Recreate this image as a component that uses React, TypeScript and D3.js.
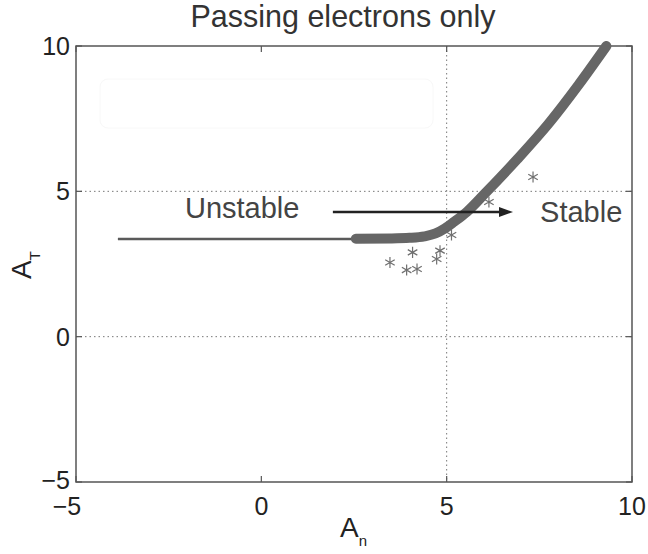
import React from "react";
import * as d3 from "d3";

const W = 648;
const H = 554;

const xTicks = [-5, 0, 5, 10];
const yTicks = [-5, 0, 5, 10];
const xGrid = [5];
const yGrid = [0, 5];

// thin branch (A_n, A_T)
const thinAn = [-3.87, 2.55];
const thinAt = [3.36, 3.36];

// thick branch
const thickAn = [2.55, 3.5, 4.0, 4.4, 4.7, 4.95, 5.2, 5.55, 6.05, 6.9, 7.75, 8.55, 9.31];
const thickAt = [3.37, 3.38, 3.4, 3.45, 3.55, 3.72, 3.95, 4.3, 4.95, 6.1, 7.33, 8.65, 10];

// scattered star markers
const starAn = [7.33, 6.14, 5.13, 4.82, 4.73, 4.08, 3.47, 3.92, 4.2];
const starAt = [5.49, 4.63, 3.5, 2.96, 2.67, 2.9, 2.55, 2.29, 2.33];

// arrow
const arrowAn = [1.93, 6.79];
const arrowAt = 4.29;

const labels = [
  { text: "Unstable", an: -2.06, at: 4.08 },
  { text: "Stable", an: 7.52, at: 3.95 },
];

export default function App() {
  const left = 76, right = 632, top = 46, bottom = 482;
  const x = d3.scaleLinear().domain([-5, 10]).range([left, right]);
  const y = d3.scaleLinear().domain([-5, 10]).range([bottom, top]);
  const font = "'Liberation Sans', Arial, Helvetica, sans-serif";

  const thinPts: [number, number][] = thinAn.map((a, i) => [x(a), y(thinAt[i])]);
  const thickPts: [number, number][] = thickAn.map((a, i) => [x(a), y(thickAt[i])]);
  const lineGen = d3.line().curve(d3.curveMonotoneX);
  const straight = d3.line();
  const star = d3.symbol().type(d3.symbolAsterisk).size(85)() as string;

  const ax0 = x(arrowAn[0]);
  const ax1 = x(arrowAn[1]);
  const ay = y(arrowAt);

  return (
    <svg width={W} height={H} style={{ position: "absolute", left: 0, top: 0, background: "#fff" }}>
      {/* faint box */}
      <rect x={100} y={79} width={333} height={49} rx={8} fill="#fff" stroke="#f8f8f8" strokeWidth={1} />
      {/* grid */}
      {xGrid.map((g) => (
        <line key={"xg" + g} x1={x(g)} x2={x(g)} y1={top} y2={bottom} stroke="#777" strokeWidth={1} strokeDasharray="1.5,3" />
      ))}
      {yGrid.map((g) => (
        <line key={"yg" + g} x1={left} x2={right} y1={y(g)} y2={y(g)} stroke="#777" strokeWidth={1} strokeDasharray="1.5,3" />
      ))}
      {/* frame */}
      <rect x={left} y={top} width={right - left} height={bottom - top} fill="none" stroke="#555" strokeWidth={1.5} />
      {/* ticks */}
      {xTicks.map((t) => (
        <g key={"xt" + t}>
          <line x1={x(t)} x2={x(t)} y1={bottom} y2={bottom - 6} stroke="#555" strokeWidth={1.2} />
          <line x1={x(t)} x2={x(t)} y1={top} y2={top + 6} stroke="#555" strokeWidth={1.2} />
          <text x={x(t) - (t < 0 ? 9 : 0)} y={515} textAnchor="middle" fontFamily={font} fontSize={25} fill="#222">
            {t < 0 ? "\u2212" + Math.abs(t) : t}
          </text>
        </g>
      ))}
      {yTicks.map((t) => (
        <g key={"yt" + t}>
          <line x1={left} x2={left + 6} y1={y(t)} y2={y(t)} stroke="#555" strokeWidth={1.2} />
          <line x1={right} x2={right - 6} y1={y(t)} y2={y(t)} stroke="#555" strokeWidth={1.2} />
          <text x={70} y={y(t) + (t < 0 ? 7 : 9)} textAnchor="end" fontFamily={font} fontSize={25} fill="#222">
            {t < 0 ? "\u2212" + Math.abs(t) : t}
          </text>
        </g>
      ))}
      {/* stars */}
      {starAn.map((a, i) => (
        <path key={"s" + i} d={star} transform={`translate(${x(a)},${y(starAt[i])})`} fill="none" stroke="#707070" strokeWidth={1.2} />
      ))}
      {/* thin line */}
      <path d={straight(thinPts) as string} fill="none" stroke="#5a5a5a" strokeWidth={2.5} />
      {/* thick curve */}
      <path d={lineGen(thickPts) as string} fill="none" stroke="#666" strokeWidth={10} strokeLinecap="round" strokeLinejoin="round" />
      {/* arrow */}
      <line x1={ax0} x2={ax1 - 10} y1={ay} y2={ay} stroke="#222" strokeWidth={2.5} />
      <path d={`M${ax1},${ay} L${ax1 - 14},${ay - 5} L${ax1 - 14},${ay + 5} Z`} fill="#222" />
      {/* text labels */}
      {labels.map((l) => (
        <text key={l.text} x={x(l.an)} y={y(l.at)} fontFamily={font} fontSize={29} fill="#444">
          {l.text}
        </text>
      ))}
      {/* title */}
      <text x={343} y={27} textAnchor="middle" fontFamily={font} fontSize={30.5} fill="#333">
        Passing electrons only
      </text>
      {/* x label */}
      <text x={340} y={537} fontFamily={font} fontSize={28} fill="#222">
        A<tspan fontSize={15} dy={9}>n</tspan>
      </text>
      {/* y label */}
      <text transform={`translate(31,${279}) rotate(-90)`} fontFamily={font} fontSize={28} fill="#222">
        A<tspan fontSize={15} dy={9}>T</tspan>
      </text>
    </svg>
  );
}
